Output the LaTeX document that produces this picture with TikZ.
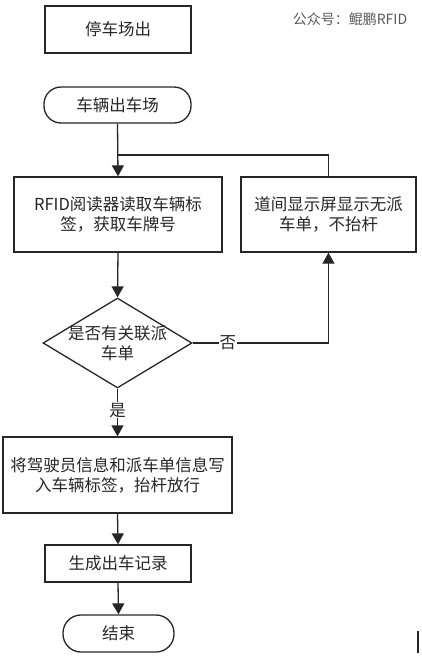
\documentclass[tikz,border=0pt]{standalone}
\usepackage{fontspec}
\setmainfont{Noto Sans CJK SC}
\usetikzlibrary{arrows.meta,shapes.geometric}
\begin{document}
\begin{tikzpicture}[x=1pt,y=-1pt,
  txt/.style={font=\fontsize{16.5}{20}\selectfont, align=center, text=black!85},
  box/.style={txt, draw=black!85, line width=1.3pt, rectangle, inner sep=0pt},
  term/.style={box, rounded corners=17pt},
  ln/.style={draw=black!85, line width=1.3pt},
  arr/.style={ln, -{Triangle[width=12pt,length=11pt]}},
  lab/.style={txt, fill=white, inner sep=1pt}]
\useasboundingbox (0,0) rectangle (421,666);
\node[box, minimum width=146pt, minimum height=47pt] (title) at (118,29.5) {停车场出};
\node[txt, font=\fontsize{14}{16}\selectfont, text=black!65] (wm) at (350,19) {公众号：鲲鹏RFID};
\node[term, minimum width=147pt, minimum height=36pt] (start) at (117.5,105) {车辆出车场};
\node[box, minimum width=208pt, minimum height=75pt] (rfid) at (118,214.5) {RFID阅读器读取车辆标\\签，获取车牌号};
\node[box, minimum width=175pt, minimum height=75pt] (right) at (328.5,214.5) {道间显示屏显示无派\\车单，不抬杆};
\node[diamond, ln, minimum width=149pt, minimum height=90pt, inner sep=0pt] (dec) at (117.5,343) {};
\node[txt] (dectxt) at (dec.center) {是否有关联派\\车单};
\node[box, minimum width=229pt, minimum height=76pt] (yes) at (117.5,475) {将驾驶员信息和派车单信息写\\入车辆标签，抬杆放行};
\node[box, minimum width=146pt, minimum height=37pt] (rec) at (118,563.5) {生成出车记录};
\node[term, minimum width=111pt, minimum height=37pt, rounded corners=18pt] (end) at (118.5,633.5) {结束};
\coordinate (j) at (118,155);
\draw[arr] (start.south) -- (rfid.north);
\draw[ln] (right.north) |- (j);
\draw[arr] (rfid.south) -- (dec.north);
\draw[arr] (dec.south) -- node[lab, pos=0.45] (yeslab) {是} (yes.north);
\draw[arr] (dec.east) -| node[lab, pos=0.13] (nolab) {否} (right.south);
\draw[arr] (yes.south) -- (rec.north);
\draw[arr] (rec.south) -- (end.north);
\fill[black!85] (416.5,631) rectangle (419,653);
\end{tikzpicture}
\end{document}
